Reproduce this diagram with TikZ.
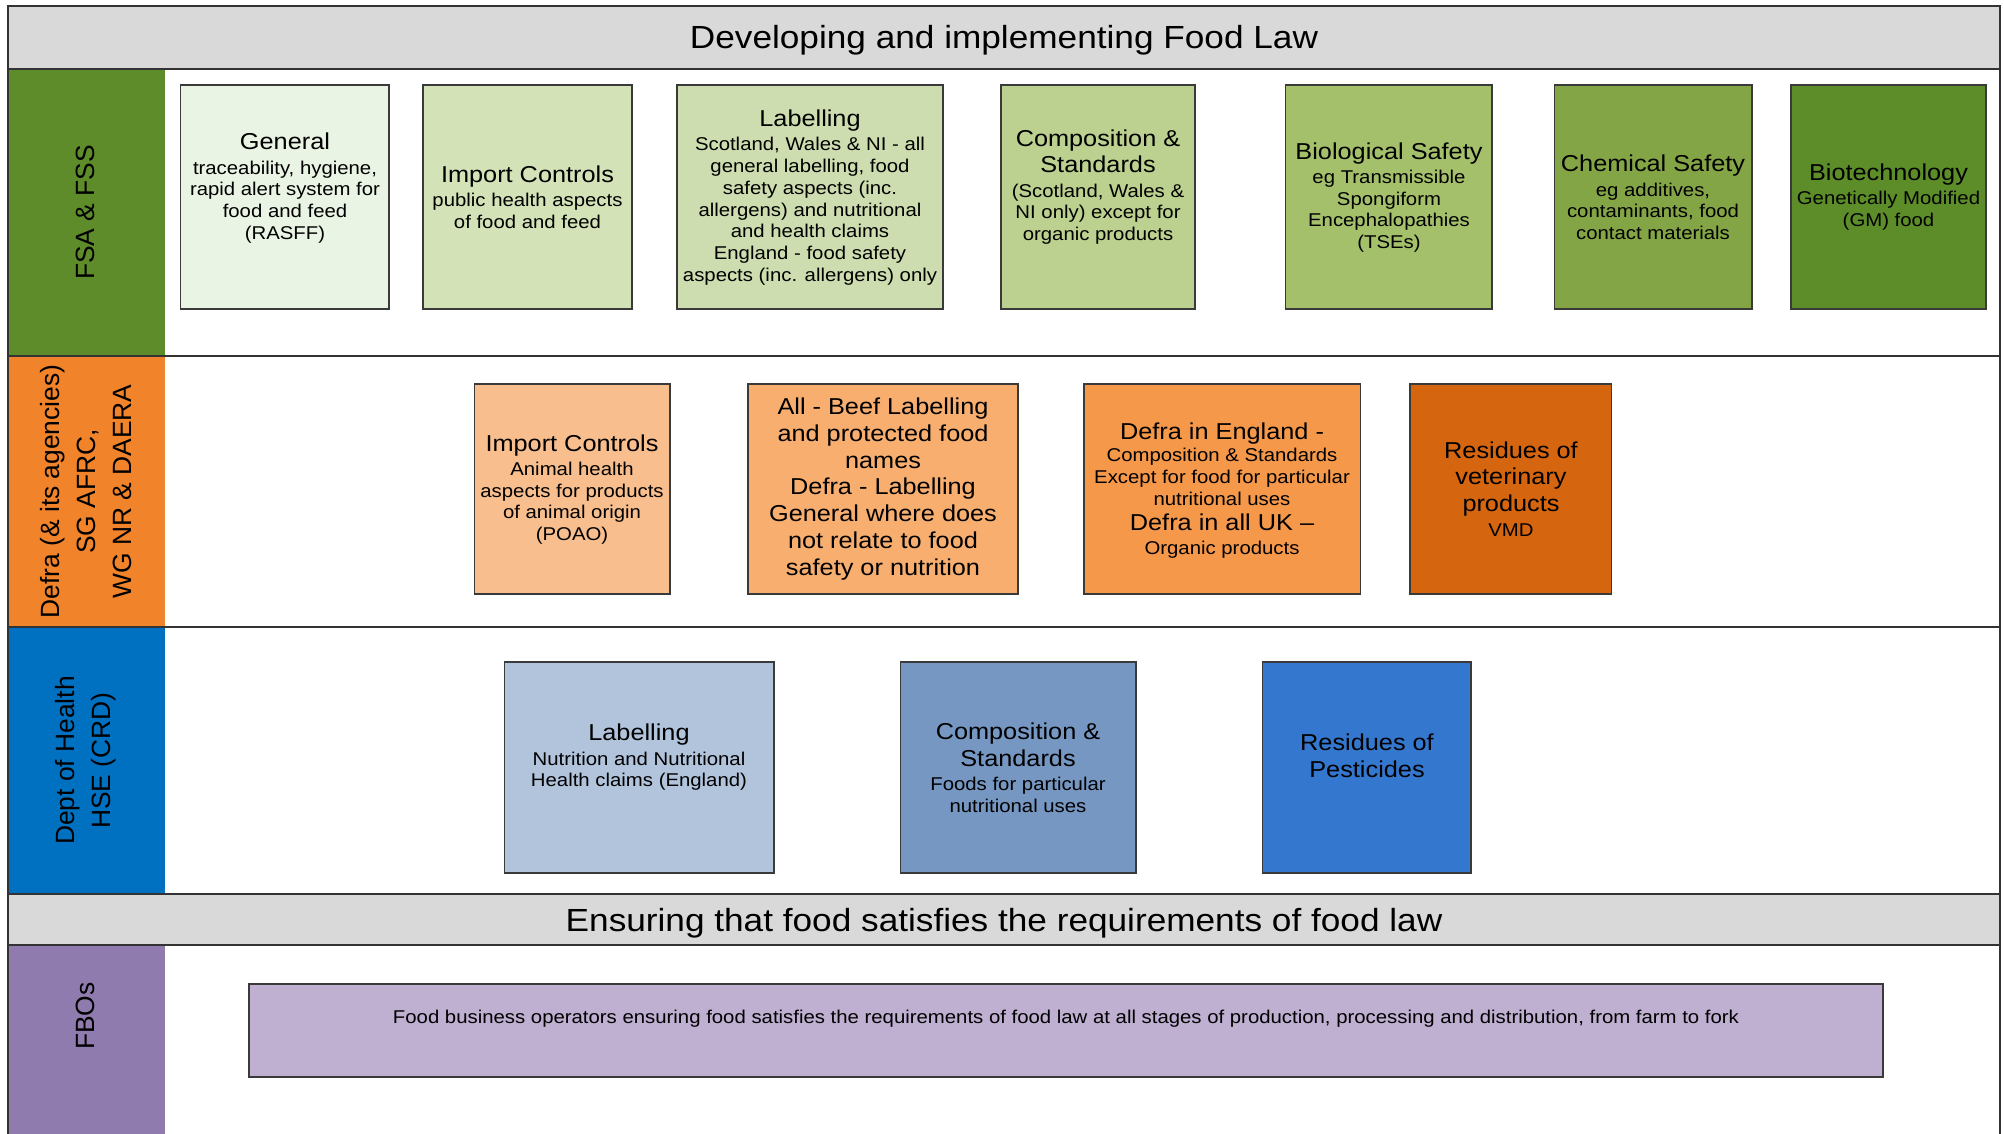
\documentclass[tikz,border=0pt]{standalone}
\usepackage{fontspec}
\setmainfont{Liberation Sans}[FakeStretch=1.1]
\newfontfamily\sidefont{Liberation Sans}
\usetikzlibrary{fit}
\definecolor{hdrgray}{HTML}{D9D9D9}
\definecolor{framec}{HTML}{333333}
\definecolor{boxline}{HTML}{3A3A3A}
\definecolor{fsagreen}{HTML}{5E8C2B}
\definecolor{ga}{HTML}{EAF4E4}
\definecolor{gb}{HTML}{D3E2B7}
\definecolor{gc}{HTML}{CEDDAF}
\definecolor{gd}{HTML}{BCD08F}
\definecolor{ge}{HTML}{A5C06B}
\definecolor{gf}{HTML}{84A545}
\definecolor{gg}{HTML}{5D8D29}
\definecolor{defraor}{HTML}{F1832B}
\definecolor{oa}{HTML}{F8BE8D}
\definecolor{ob}{HTML}{F7AE6F}
\definecolor{oc}{HTML}{F6984A}
\definecolor{od}{HTML}{D5650E}
\definecolor{dohblue}{HTML}{0070C0}
\definecolor{ba}{HTML}{B1C4DC}
\definecolor{bb}{HTML}{7597C2}
\definecolor{bc}{HTML}{3477CE}
\definecolor{fbopurple}{HTML}{8F7BAD}
\definecolor{pa}{HTML}{BFAFD1}
\newcommand{\hd}{\fontsize{23}{26.8}\selectfont}
\newcommand{\bd}{\fontsize{18.5}{21.7}\selectfont}
\begin{document}
\begin{tikzpicture}[x=1pt,y=-1pt,
  frame/.style={draw=framec, line width=1.6pt},
  box/.style={draw=boxline, line width=1.1pt, inner sep=0pt},
  txt/.style={align=center, inner sep=0pt, font=\bd, text=black},
  side/.style={align=center, inner sep=0pt, rotate=90, font=\sidefont\fontsize{26.4}{36}\selectfont},
  title/.style={inner sep=0pt, font=\fontsize{32}{38}\selectfont}]
\useasboundingbox (0,0) rectangle (2004,1134);
% bands
\fill[hdrgray] (8,6) rectangle (2000,69);
\fill[fsagreen] (8,69) rectangle (164.5,356);
\fill[defraor] (8,356) rectangle (164.5,627);
\fill[dohblue] (8,627) rectangle (164.5,894);
\fill[hdrgray] (8,894) rectangle (2000,945);
\fill[fbopurple] (8,945) rectangle (164.5,1134);
\draw[frame] (8,1134) -- (8,6) -- (2000,6) -- (2000,1134);
\foreach \yy in {69,356,627,894,945} \draw[frame] (8,\yy) -- (2000,\yy);
% titles
\node[title] (t1) at (1004,40) {Developing and implementing Food Law};
\node[title] (t2) at (1004,923) {Ensuring that food satisfies the requirements of food law};
% side labels
\node[side] (s1) at (85.6,212.5) {FSA \& FSS};
\node[side] (s2) at (85.6,491.5) {Defra (\& its agencies)\\SG AFRC,\\WG NR \& DAERA};
\node[side] (s3) at (85.6,760.5) {Dept of Health\\HSE (CRD)};
\node[side] (s4) at (85.6,1016) {FBOs};
% row 1 boxes
\node[box, fill=ga, fit={(180.5,85) (389,309)}] (b11) {};
\node[box, fill=gb, fit={(423,85) (632,309)}] (b12) {};
\node[box, fill=gc, fit={(677,85) (943,309)}] (b13) {};
\node[box, fill=gd, fit={(1001,85) (1195,309)}] (b14) {};
\node[box, fill=ge, fit={(1285.6,85) (1492,309)}] (b15) {};
\node[box, fill=gf, fit={(1554.5,85) (1752,309)}] (b16) {};
\node[box, fill=gg, fit={(1791,85) (1986,309)}] (b17) {};
\node[txt] (x11) at (285,188) {{\hd General}\\[2.6pt]traceability, hygiene,\\rapid alert system for\\food and feed\\(RASFF)};
\node[txt] (x12) at (527.5,197) {{\hd Import Controls}\\[2.6pt]public health aspects\\of food and feed};
\node[txt] (x13) at (810,197.5) {{\hd Labelling}\\[2.6pt]Scotland, Wales \& NI - all\\general labelling, food\\safety aspects (inc.\\allergens) and nutritional\\and health claims\\England - food safety\\aspects (inc. allergens) only};
\node[txt] (x14) at (1098,187) {{\hd Composition \&}\\[5pt]{\hd Standards}\\[2.6pt](Scotland, Wales \&\\NI only) except for\\organic products};
\node[txt] (x15) at (1389,197.5) {{\hd Biological Safety}\\[2.6pt]eg Transmissible\\Spongiform\\Encephalopathies\\(TSEs)};
\node[txt] (x16) at (1653,197.5) {{\hd Chemical Safety}\\[2.6pt]eg additives,\\contaminants, food\\contact materials};
\node[txt] (x17) at (1888.5,197) {{\hd Biotechnology}\\[2.6pt]Genetically Modified\\(GM) food};
% row 2 boxes
\node[box, fill=oa, fit={(474.5,384) (670,594)}] (b21) {};
\node[box, fill=ob, fit={(748,384) (1018,594)}] (b22) {};
\node[box, fill=oc, fit={(1084,384) (1360.5,594)}] (b23) {};
\node[box, fill=od, fit={(1410,384) (1611.5,594)}] (b24) {};
\node[txt] (x21) at (572,489.5) {{\hd Import Controls}\\[2.6pt]Animal health\\aspects for products\\of animal origin\\(POAO)};
\node[txt, font=\hd] (x22) at (883,489) {All - Beef Labelling\\and protected food\\names\\Defra - Labelling\\General where does\\not relate to food\\safety or nutrition};
\node[txt] (x23) at (1222,490.5) {{\hd Defra in England -}\\[1pt]Composition \& Standards\\Except for food for particular\\nutritional uses\\[3.5pt]{\hd Defra in all UK –}\\[2.6pt]Organic products};
\node[txt, font=\hd] (x24) at (1511,489) {Residues of\\veterinary\\products\\[-2pt]{\bd VMD}};
% row 3 boxes
\node[box, fill=ba, fit={(504.5,662) (774,873)}] (b31) {};
\node[box, fill=bb, fit={(900.5,662) (1136,873)}] (b32) {};
\node[box, fill=bc, fit={(1262.5,662) (1471,873)}] (b33) {};
\node[txt] (x31) at (639,757.5) {{\hd Labelling}\\[2.6pt]Nutrition and Nutritional\\Health claims (England)};
\node[txt] (x32) at (1018,767.5) {{\hd Composition \&}\\[5pt]{\hd Standards}\\[2.6pt]Foods for particular\\nutritional uses};
\node[txt, font=\hd] (x33) at (1367,756) {Residues of\\Pesticides};
% FBO box
\node[box, fill=pa, fit={(249,984) (1883,1077)}] (b41) {};
\node[txt] (x41) at (1066,1019) {Food business operators ensuring food satisfies the requirements of food law at all stages of production, processing and distribution, from farm to fork};
\end{tikzpicture}
\end{document}
